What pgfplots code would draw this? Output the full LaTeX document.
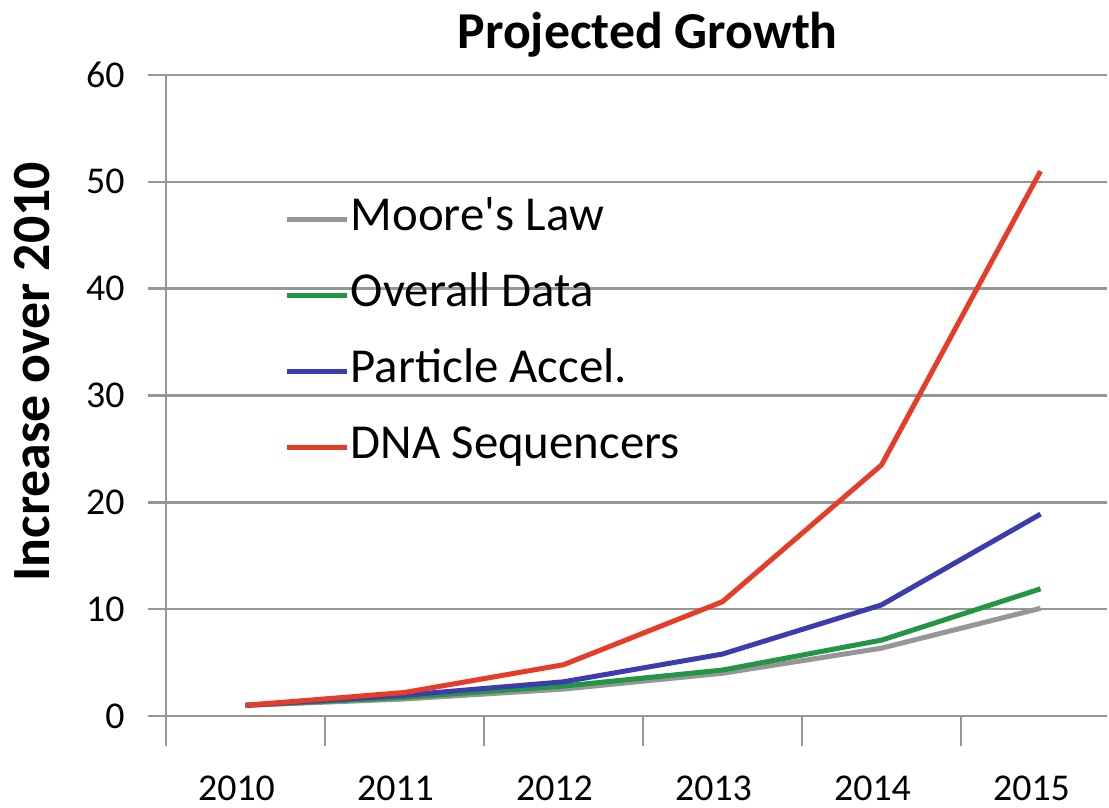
\documentclass[border=0pt]{standalone}
\usepackage{pgfplots}
\pgfplotsset{compat=1.18}
\usepackage{fontspec}
\setmainfont{Carlito}[Ligatures=TeXOff]
\definecolor{gridgray}{RGB}{150,150,150}
\definecolor{moore}{RGB}{150,150,150}
\definecolor{overall}{RGB}{35,150,70}
\definecolor{particle}{RGB}{60,60,175}
\definecolor{dna}{RGB}{230,60,40}
\begin{document}
\begin{tikzpicture}
\useasboundingbox (-166bp,-92bp) rectangle (943bp,716bp);
\begin{axis}[
  scale only axis,
  width=941bp, height=641bp,
  xmin=-0.5, xmax=5.418,
  ymin=0, ymax=60,
  axis lines*=left,
  axis line style={gridgray, line width=2.5bp},
  tick align=outside,
  xtick={0,1,2,3,4,5},
  xticklabels={2010,2011,2012,2013,2014,2015},
  minor xtick={-0.5,0.5,1.5,2.5,3.5,4.5,5.5},
  ytick={0,10,20,30,40,50,60},
  major tick length=18bp,
  minor tick length=30bp,
  x tick style={draw=none},
  minor x tick style={draw=gridgray, line width=2bp},
  y tick style={gridgray, line width=2.5bp},
  ymajorgrids,
  grid style={gridgray, line width=2.5bp},
  /pgf/number format/assume math mode=true,
  ticklabel style={font=\fontsize{38}{42}\selectfont},
  xticklabel style={yshift=-38bp, xshift=-9bp},
  yticklabel style={xshift=-20bp},
  title={\textbf{Projected Growth}},
  title style={font=\fontsize{52}{58}\selectfont, at={(axis description cs:0.512,1)}, anchor=base, yshift=21bp},
  ylabel={\textbf{Increase over 2010}},
  ylabel style={font=\fontsize{54}{60}\selectfont, at={(axis description cs:-0.1424,0.537)}, anchor=center, rotate=0},
  legend style={draw=none, fill=none, at={(axis description cs:0.126,0.812)}, anchor=north west,
    font=\fontsize{49}{56}\selectfont, row sep=29bp, inner sep=0pt,
    nodes={text height=34bp, text depth=11bp, inner sep=1bp}},
  legend cell align=left,
  legend image code/.code={\draw[#1, line width=5bp] (0bp,0bp) -- (60bp,0bp);},
  every axis plot/.append style={line width=5bp, line join=round, mark=none},
  clip=false,
]
\addplot[moore] coordinates {(0,1) (1,1.59) (2,2.52) (3,4.0) (4,6.35) (5,10.08)};
\addplot[overall] coordinates {(0,1) (1,1.75) (2,2.8) (3,4.3) (4,7.1) (5,11.9)};
\addplot[particle] coordinates {(0,1) (1,1.95) (2,3.2) (3,5.8) (4,10.4) (5,18.9)};
\addplot[dna] coordinates {(0,1) (1,2.2) (2,4.8) (3,10.7) (4,23.5) (5,51.0)};
\legend{Moore's Law, Overall Data, Particle Accel., DNA Sequencers}
\end{axis}
\end{tikzpicture}
\end{document}
